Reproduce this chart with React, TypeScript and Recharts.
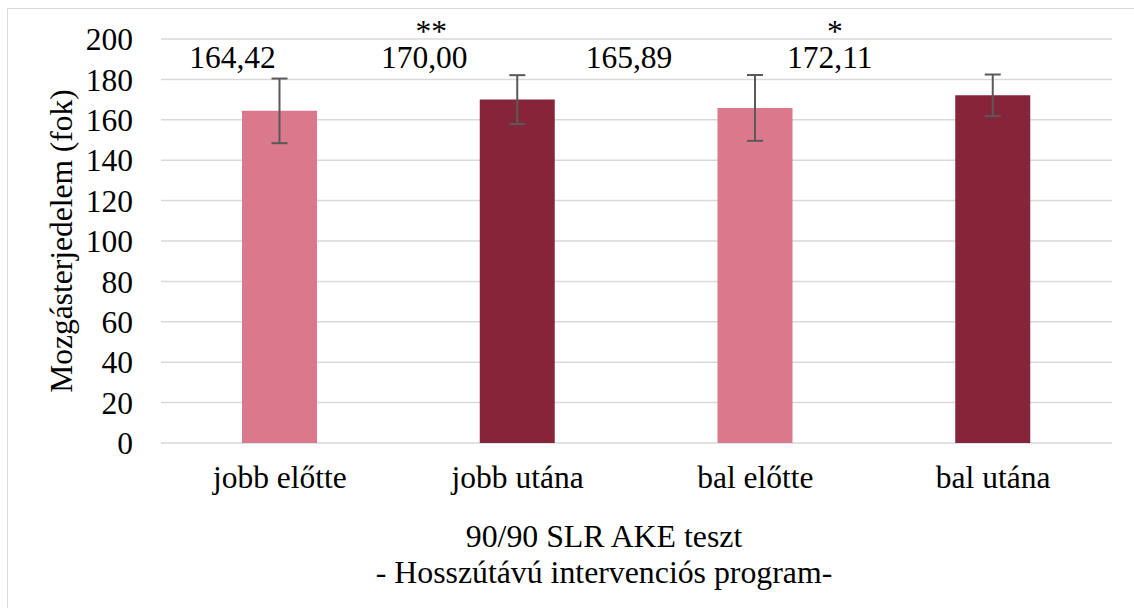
import React from "react";
import { BarChart, Bar, XAxis, YAxis, CartesianGrid, ErrorBar, Cell, LabelList, Label } from "recharts";

const categories = ["jobb előtte", "jobb utána", "bal előtte", "bal utána"];
const means = [164.42, 170.0, 165.89, 172.11];
const sds = [16.0, 12.1, 16.3, 10.3];
const valueLabels = ["164,42", "170,00", "165,89", "172,11"];
const stars = ["", "**", "", "*"];
const yTicks = [0, 20, 40, 60, 80, 100, 120, 140, 160, 180, 200];

const COLORS = ["#D9798B", "#862539", "#D9798B", "#862539"];
const LABEL_DX = [-47, -93, -126, -163];
const STAR_DX = [0, -86, 0, -158];
const FONT = "Liberation Serif, Tinos, Times New Roman, serif";
const FS = 31.5;
const TXT: React.CSSProperties = { fontFamily: FONT, fontSize: FS };

const data = categories.map((c, i) => ({ name: c, value: means[i], err: sds[i], label: valueLabels[i], star: stars[i] }));

const renderLabel = (props: any) => {
  const { x, width, index } = props;
  const cx = x + width / 2;
  return (
    <g>
      <text x={cx + LABEL_DX[index]} y={68} textAnchor="middle" style={TXT} fill="#000">
        {valueLabels[index]}
      </text>
      {stars[index] ? (
        <text x={cx + STAR_DX[index]} y={42} textAnchor="middle" style={TXT} fill="#000">
          {stars[index]}
        </text>
      ) : null}
    </g>
  );
};

export default function App() {
  return (
    <div style={{ position: "absolute", left: 0, top: 0, width: 1134, height: 608, background: "#fff", overflow: "hidden", fontFamily: FONT }}>
      <div style={{ position: "absolute", left: 7, top: 8, width: 1140, height: 640, border: "1px solid #d9d9d9", boxSizing: "border-box" }} />
      <div style={{ position: "absolute", left: 0, top: 0 }}>
        <BarChart width={1134} height={608} data={data} margin={{ top: 39, right: 22, bottom: 0, left: 0 }} style={{ fontFamily: FONT }}>
          <CartesianGrid vertical={false} stroke="#d9d9d9" strokeWidth={1.5} />
          <XAxis
            dataKey="name"
            axisLine={false}
            tickLine={false}
            tickSize={0}
            tickMargin={23}
            height={165}
            interval={0}
            tick={{ fontSize: FS, fill: "#000", style: TXT }}
          >
            <Label
              content={() => (
                <text textAnchor="middle" style={{ ...TXT, fontSize: 31.8 }} fill="#000">
                  <tspan x={604} y={547}>90/90 SLR AKE teszt</tspan>
                  <tspan x={604} y={583}>- Hosszútávú intervenciós program-</tspan>
                </text>
              )}
            />
          </XAxis>
          <YAxis
            domain={[0, 200]}
            ticks={yTicks}
            interval={0}
            axisLine={false}
            tickLine={false}
            tickSize={0}
            tickMargin={28}
            width={161}
            tick={{ fontSize: FS, fill: "#000", style: TXT }}
          >
            <Label
              content={() => (
                <text x={61} y={241} transform="rotate(-90 61 241)" textAnchor="middle" dominantBaseline="central" style={TXT} fill="#000">
                  Mozgásterjedelem (fok)
                </text>
              )}
            />
          </YAxis>
          <Bar dataKey="value" barSize={75} isAnimationActive={false}>
            {data.map((d, i) => (
              <Cell key={d.name} fill={COLORS[i]} />
            ))}
            <ErrorBar dataKey="err" width={8} stroke="#595959" strokeWidth={2} direction="y" />
            <LabelList dataKey="label" content={renderLabel} />
          </Bar>
        </BarChart>
      </div>
    </div>
  );
}
